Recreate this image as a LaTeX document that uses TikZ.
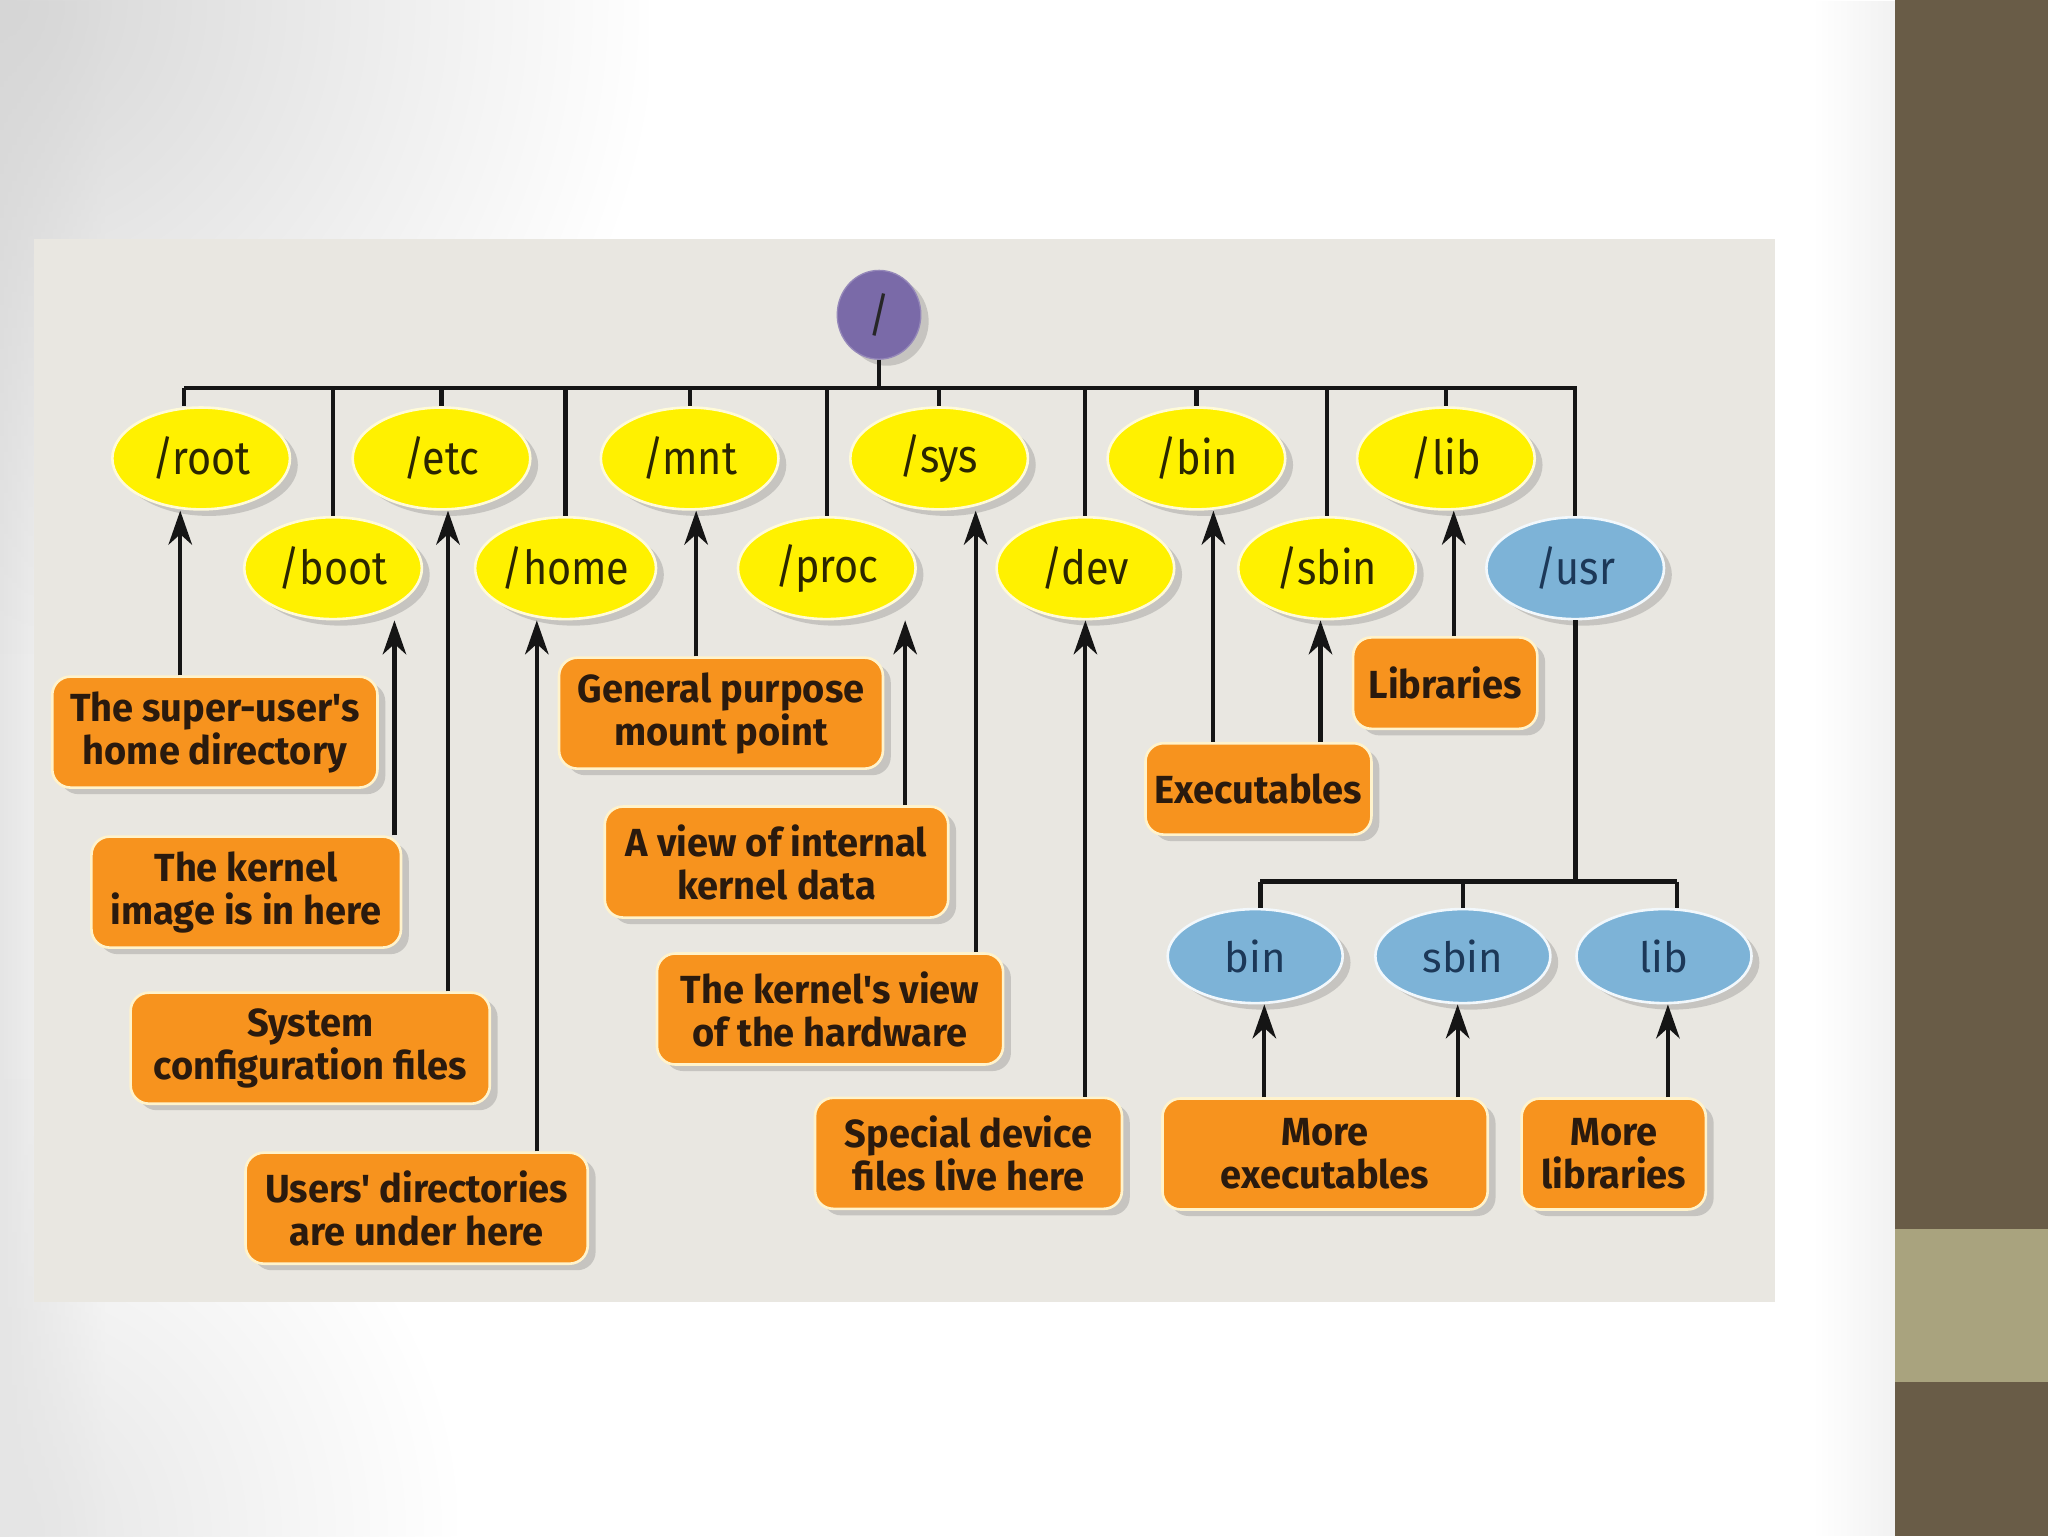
\documentclass[tikz,border=0pt]{standalone}
\usepackage{fontspec}
\setmainfont{Fira Sans}
\newfontfamily\boxfont[FakeStretch=0.97]{Fira Sans}
\newfontfamily\elfont[FakeStretch=0.88]{Fira Sans}
\usetikzlibrary{shapes.geometric,shadows,arrows.meta,fadings}
\definecolor{panelc}{HTML}{E9E7E1}
\definecolor{sidec}{HTML}{695C47}
\definecolor{tanc}{HTML}{A9A37E}
\definecolor{yelc}{HTML}{FFF100}
\definecolor{yelb}{HTML}{FFFBD8}
\definecolor{bluc}{HTML}{7DB3D7}
\definecolor{blub}{HTML}{F2F8FC}
\definecolor{orc}{HTML}{F7931E}
\definecolor{orb}{HTML}{FFF3CC}
\definecolor{purc}{HTML}{7A6AA8}
\definecolor{boxtext}{HTML}{2A1A0E}
\definecolor{eltext}{HTML}{2B2600}
\definecolor{blutext}{HTML}{1C3858}
\definecolor{linec}{HTML}{151515}
\tikzfading[name=fadeR, left color=transparent!0, right color=transparent!100]
\tikzfading[name=fadeL, left color=transparent!100, right color=transparent!0]
\tikzfading[name=fadeO, inner color=transparent!0, outer color=transparent!100]
\begin{document}
\begin{tikzpicture}[x=1pt,y=-1pt,
  shad/.style={drop shadow={shadow xshift=6pt,shadow yshift=-5pt,opacity=0.22,fill=black!70}},
  yel/.style={ellipse,fill=yelc,draw=yelb,line width=2pt,minimum width=136pt,minimum height=78pt,
    inner sep=0pt,font=\elfont\fontsize{36}{36}\selectfont,text=eltext,shad},
  blu/.style={yel,fill=bluc,draw=blub,text=blutext},
  sub/.style={blu,minimum width=134pt,minimum height=72pt,font=\fontsize{32}{32}\selectfont},
  rootc/.style={ellipse,fill=purc,draw=purc!80!white,line width=1pt,minimum width=64pt,minimum height=68pt,
    inner sep=0pt,font=\elfont\fontsize{36}{36}\selectfont,text=black!85,shad},
  desc/.style={rounded corners=14pt,fill=orc,draw=orb,line width=2pt,align=center,inner sep=0pt,
    minimum height=85pt,font=\boxfont\bfseries\fontsize{30}{33}\selectfont,text=boxtext,shad},
  conn/.style={line width=3.2pt,draw=linec},
  busl/.style={line width=3.4pt,draw=linec,line join=miter},
  arr/.style={conn,-{Stealth[length=26pt,width=18pt,inset=8pt]}}]
\useasboundingbox (0,0) rectangle (1568,1176);
% background
\fill[white] (0,0) rectangle (1451,1176);
\begin{scope}
  \clip (0,0) rectangle (1451,1176);
  \fill[black!10,path fading=fadeR] (0,0) rectangle (80,1176);
  \fill[black!16,path fading=fadeO] (-500,-500) rectangle (500,500);
  \fill[black!10,path fading=fadeO] (-350,826) rectangle (350,1526);
  \fill[black!5,path fading=fadeL] (1390,0) rectangle (1451,1176);
\end{scope}
\fill[sidec] (1451,0) rectangle (1568,1176);
\fill[tanc] (1451,941) rectangle (1568,1058);
\fill[panelc] (26,183) rectangle (1359,997);
% root
\node[rootc] (top) at (673,241) {/};
% top row
\node[yel] (nroot) at (154,351) {/root};
\node[yel] (netc) at (338,351) {/etc};
\node[yel] (nmnt) at (528,351) {/mnt};
\node[yel] (nsys) at (719,351) {/sys};
\node[yel] (nbin) at (916,351) {/bin};
\node[yel] (nlib) at (1107,351) {/lib};
% second row
\node[yel] (nboot) at (255,435) {/boot};
\node[yel] (nhome) at (433,435) {/home};
\node[yel] (nproc) at (633,435) {/proc};
\node[yel] (ndev) at (831,435) {/dev};
\node[yel] (nsbin) at (1016,435) {/sbin};
\node[blu] (nusr) at (1206,435) {/usr};
% usr children
\node[sub] (ubin) at (961,732) {bin};
\node[sub] (usbin) at (1120,732) {sbin};
\node[sub] (ulib) at (1274,732) {lib};
% description boxes
\node[desc,minimum width=249pt] (b1) at (164.5,560.5) {The super-user's\\home directory};
\node[desc,minimum width=237pt] (b2) at (188.5,683) {The kernel\\image is in here};
\node[desc,minimum width=275pt] (b3) at (237.5,802.5) {System\\configuration files};
\node[desc,minimum width=262pt] (b4) at (319,925) {Users' directories\\are under here};
\node[desc,minimum width=248pt] (b5) at (552,546) {General purpose\\mount point};
\node[desc,minimum width=263pt] (b6) at (594.5,660) {A view of internal\\kernel data};
\node[desc,minimum width=265pt] (b7) at (635.5,772.5) {The kernel's view\\of the hardware};
\node[desc,minimum width=235pt] (b8) at (741.5,883) {Special device\\files live here};
\node[desc,minimum width=173pt,minimum height=70pt] (b9) at (963.5,604) {Executables};
\node[desc,minimum width=141pt,minimum height=70pt] (b10) at (1106.5,523) {Libraries};
\node[desc,minimum width=249pt] (b11) at (1014.5,883.5) {More\\executables};
\node[desc,minimum width=141pt] (b12) at (1235.5,883.5) {More\\libraries};
% bus
\coordinate (bus) at (673,297);
\draw[busl] (top.south) -- (bus);
\draw[busl] ([xshift=-13pt]nroot.north |- bus) -- (nusr.north |- bus) -- (nusr.north);
\draw[conn] ([xshift=-13pt]nroot.north |- bus) -- ([xshift=-13pt]nroot.north);
\foreach \n in {netc,nmnt,nsys,nbin,nlib,nboot,nhome,nproc,ndev,nsbin}
  \draw[conn] (\n.north |- bus) -- (\n.north);
% usr subtree
\coordinate (sbus) at (1206,675);
\draw[busl,line width=3.8pt] (nusr.south) -- (nusr.south |- sbus);
\draw[busl] ([xshift=4pt]ubin.north |- sbus) -- ([xshift=10pt]ulib.north |- sbus);
\draw[conn] ([xshift=4pt]ubin.north |- sbus) -- ([xshift=4pt]ubin.north);
\draw[conn] (usbin.north |- sbus) -- (usbin.north);
\draw[conn] ([xshift=10pt]ulib.north |- sbus) -- ([xshift=10pt]ulib.north);
% arrow targets
\coordinate (a1) at ([xshift=-16pt]nroot.south);
\coordinate (a2) at ([xshift=47pt]nboot.south);
\coordinate (a3) at ([xshift=5pt]netc.south);
\coordinate (a4) at ([xshift=-22pt]nhome.south);
\coordinate (a5) at ([xshift=5pt]nmnt.south);
\coordinate (a6) at ([xshift=60pt]nproc.south);
\coordinate (a7) at ([xshift=28pt]nsys.south);
\coordinate (a8) at (ndev.south);
\coordinate (a9) at ([xshift=13pt]nbin.south);
\coordinate (a10) at ([xshift=-5pt]nsbin.south);
\coordinate (a11) at ([xshift=6pt]nlib.south);
\coordinate (a12) at ([xshift=7pt]ubin.south);
\coordinate (a13) at ([xshift=-4pt]usbin.south);
\coordinate (a14) at ([xshift=3pt]ulib.south);
\draw[arr] (b1.north -| a1) -- (a1);
\draw[arr] (b2.north -| a2) -- (a2);
\draw[arr] (b3.north -| a3) -- (a3);
\draw[arr] (b4.north -| a4) -- (a4);
\draw[arr] (b5.north -| a5) -- (a5);
\draw[arr] (b6.north -| a6) -- (a6);
\draw[arr] (b7.north -| a7) -- (a7);
\draw[arr] (b8.north -| a8) -- (a8);
\draw[arr] (b9.north -| a9) -- (a9);
\draw[arr] (b9.north -| a10) -- (a10);
\draw[arr] (b10.north -| a11) -- (a11);
\draw[arr] (b11.north -| a12) -- (a12);
\draw[arr] (b11.north -| a13) -- (a13);
\draw[arr] (b12.north -| a14) -- (a14);
\end{tikzpicture}
\end{document}
